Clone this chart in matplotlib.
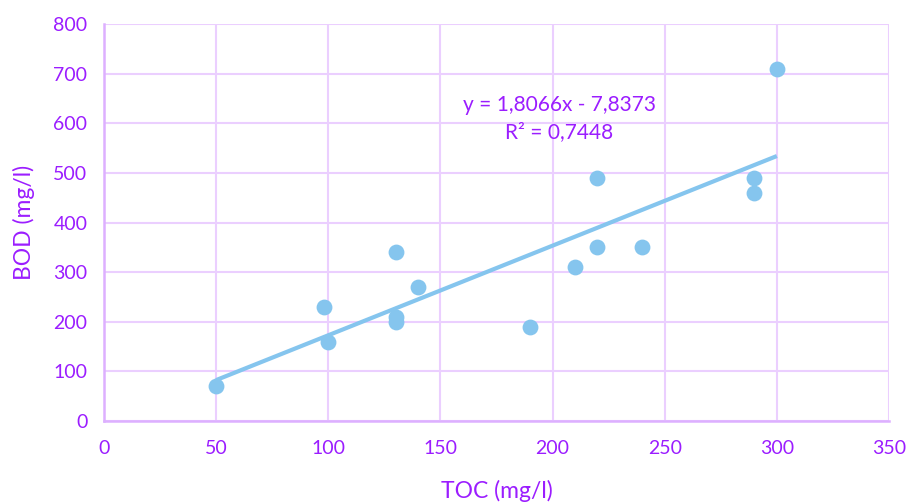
import matplotlib.pyplot as plt

# TOC vs BOD samples (mg/l)
toc = [50, 98, 100, 130, 130, 130, 140, 190, 210, 220, 220, 240, 290, 290, 300]
bod = [70, 230, 160, 340, 210, 200, 270, 190, 310, 490, 350, 350, 490, 460, 710]

# linear trendline coefficients
slope = 1.8066
intercept = -7.8373
r2 = 0.7448

purple = "#9B1DFF"
grid_col = "#EBCFFF"
dot_col = "#85C5EE"

plt.rcParams['font.family'] = ['Lato', 'DejaVu Sans']

fig = plt.figure(figsize=(9.09, 5.03), dpi=100)
ax = fig.add_axes([0.1144, 0.163, 0.8636, 0.789])

ax.scatter(toc, bod, s=130, color=dot_col, zorder=3, linewidths=0)

x0, x1 = min(toc), max(toc)
ax.plot([x0, x1], [slope * x0 + intercept, slope * x1 + intercept],
        color=dot_col, lw=3, zorder=2, solid_capstyle='butt')

eq = "y = {:.4f}x - {:.4f}".format(slope, -intercept).replace(".", ",")
rr = "R² = {:.4f}".format(r2).replace(".", ",")
ax.text(203, 609, eq + "\n" + rr, color=purple, fontsize=15,
        ha='center', va='center', linespacing=1.45)

ax.set_xlim(0, 350)
ax.set_ylim(0, 800)
ax.set_xticks(range(0, 351, 50))
ax.set_yticks(range(0, 801, 100))
ax.grid(True, color=grid_col, lw=1.5)
ax.set_axisbelow(True)

for side in ['top', 'right']:
    ax.spines[side].set_visible(False)
for side in ['left', 'bottom']:
    ax.spines[side].set_color("#DDB0FF")
    ax.spines[side].set_linewidth(1.8)

ax.tick_params(length=0, colors=purple, labelsize=14)
ax.tick_params(axis='x', pad=14)
ax.tick_params(axis='y', pad=12)

ax.set_xlabel("TOC (mg/l)", color=purple, fontsize=16.5, labelpad=16)
ax.set_ylabel("BOD (mg/l)", color=purple, fontsize=16.5, labelpad=13)

fig.savefig("out.png", dpi=100)
